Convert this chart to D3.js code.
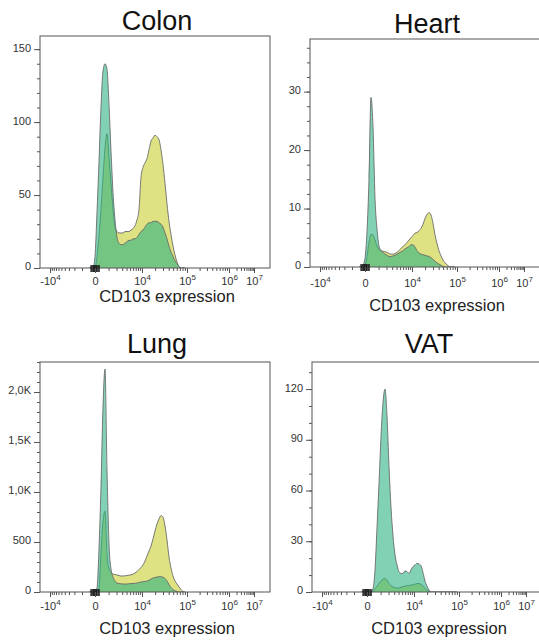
<!DOCTYPE html>
<html><head><meta charset="utf-8">
<script src="https://cdn.jsdelivr.net/npm/d3@7"></script>
<style>
html,body{margin:0;padding:0;background:#fff;}
svg{display:block;font-family:"Liberation Sans",Arial,Helvetica,sans-serif;}
</style></head><body>
<svg id="chart" width="539" height="640"></svg>
<script>
// ---------- DATA ----------
const xBins = [-377,-238,-112,0,107,226,358,504,666,845,1043,1263,1507,1776,2075,2405,2771,3176,3624,4120,4669,5277,5950,6694,7519,8431,9441,10556,11750,13070,14530,16140,17910,19870,22030,24420,27050,29950,33170,36700,40600,44910,49670,54910,60710,67100,74130,81900,90490];

const tissues = ["Colon", "Heart", "Lung", "VAT"];

const colonGreen  = [0,0,0,8,38,73,110,135,140,136,112,80,52,33,21,17,16,16,17,18,19,19,20,20,21,23,25,26,28,30,31,31,32,32,32,31,30,28,24,20,15,11,8,5,3,1,0,0,0];
const colonYellow = [0,0,0,0,8,22,40,62,82,92,76,58,40,28,25,24,24,24,25,25,25,26,27,29,33,40,62,69,72,75,81,87,89,91,90,88,81,71,58,44,32,23,15,9,4,1,0,0,0];

const heartGreen  = [0,0,0.3,1.5,6,15,29,24,11.7,6.5,3.6,2.8,2.5,2.2,2.0,1.8,1.8,1.9,2.0,2.2,2.4,2.6,2.8,3.1,3.3,3.5,3.8,3.8,3.4,2.8,2.4,2.2,2.1,2.0,1.9,1.8,1.6,1.3,1.0,0.7,0.5,0.3,0.1,0,0,0,0,0,0];
const heartYellow = [0,0,0,0.3,1.8,4.2,5.6,5.5,4.6,3.6,3.0,2.8,2.7,2.6,2.5,2.3,2.2,2.2,2.3,2.5,2.8,3.2,3.5,3.8,4.2,4.6,5.0,5.4,5.8,5.9,6.2,6.6,7.3,8.3,9.0,9.3,8.9,7.5,5.5,4.0,2.8,1.9,1.2,0.7,0.4,0.1,0,0,0];

const lungGreen   = [0,0,0,0,40,430,1050,1850,2230,1220,480,230,150,110,90,85,82,80,80,80,82,84,85,87,90,95,100,103,105,110,118,130,140,145,150,153,153,148,135,110,75,45,25,12,5,0,0,0,0];
const lungYellow  = [0,0,0,0,0,40,400,700,810,380,230,195,180,175,170,165,160,160,162,165,168,172,178,190,205,225,245,270,310,360,410,460,530,610,680,730,765,750,660,520,350,240,160,110,80,50,25,5,0];

const vatGreen    = [0,0,0,0,0,0,2,13,38,64,92,112,120,104,74,50,33,22,16,12,11,11,12.5,12,11,13,15,16,17,16.5,15.5,11.5,6.5,3.5,1.2,0,0,0,0,0,0,0,0,0,0,0,0,0,0];
const vatYellow   = [0,0,0,0,0,0,0.5,2,3.5,5,6.5,7.6,8,7,5,3.8,3,2.5,2.3,2.4,2.8,3.2,3.5,3.7,3.9,4.1,4.3,4.6,5,5,4.5,3.5,2.2,1.2,0.4,0,0,0,0,0,0,0,0,0,0,0,0,0,0];

const greenSeries  = [colonGreen, heartGreen, lungGreen, vatGreen];
const yellowSeries = [colonYellow, heartYellow, lungYellow, vatYellow];

const yDomainMax = [159, 39, 2300, 136];
const colonYTicks = [0, 50, 100, 150];
const heartYTicks = [0, 10, 20, 30];
const lungYTicks  = [0, 500, 1000, 1500, 2000];
const vatYTicks   = [0, 30, 60, 90, 120];
const colonYTickLabels = ["0", "50", "100", "150"];
const heartYTickLabels = ["0", "10", "20", "30"];
const lungYTickLabels  = ["0", "500", "1,0K", "1,5K", "2,0K"];
const vatYTickLabels   = ["0", "30", "60", "90", "120"];
const yMinorSteps = [10, 2.5, 100, 10];
const yTicksAll = [colonYTicks, heartYTicks, lungYTicks, vatYTicks];
const yTickLabelsAll = [colonYTickLabels, heartYTickLabels, lungYTickLabels, vatYTickLabels];

const xTickValues = [-1e4, 0, 1e4, 1e5, 1e6, 1e7];
const xTickBase = ["-10", "0", "10", "10", "10", "10"];
const xTickExp  = ["4", "", "4", "5", "6", "7"];
const xMinorMultipliers = [2, 3, 4, 5, 6, 7, 8, 9];
const xNearZeroTicks = [20, 40, 60, 80, 100, 150, 200, 250];
const xAxisTitle = "CD103 expression";

// ---------- LAYOUT / STYLE ----------
const layout = [
  {left: 40,  top: 36,  bottom: 268, width: 230, titleY: 30,  tickLabelY: 284.5, axisTitleY: 302},
  {left: 310, top: 39,  bottom: 267, width: 240, titleY: 33,  tickLabelY: 287, axisTitleY: 311},
  {left: 40,  top: 362, bottom: 592, width: 230, titleY: 353, tickLabelY: 610, axisTitleY: 634},
  {left: 312, top: 362, bottom: 592, width: 240, titleY: 353, tickLabelY: 610, axisTitleY: 634}
];
const xTickOffsets = [10, 55, 102, 147, 189, 214];
const yellowFill = "#dfe283";
const greenFill = "rgb(45,178,130)";
const greenOpacity = 0.6;
const curveStroke = "#6b6b6b";
const axisColor = "#555";

const svg = d3.select("#chart");
svg.append("rect").attr("width", 539).attr("height", 640).attr("fill", "#fff");
const defs = svg.append("defs");

tissues.forEach((name, p) => {
  const L = layout[p];
  const g = svg.append("g").attr("class", "panel");

  const x = d3.scaleSymlog().constant(1000)
    .domain(xTickValues)
    .range(xTickOffsets.map(o => L.left + o));
  const y = d3.scaleLinear().domain([0, yDomainMax[p]]).range([L.bottom, L.top]);

  const clipId = "clip" + p;
  defs.append("clipPath").attr("id", clipId)
    .append("rect").attr("x", L.left).attr("y", L.top)
    .attr("width", L.width).attr("height", L.bottom - L.top);

  const plot = g.append("g").attr("clip-path", `url(#${clipId})`);
  const idx = d3.range(xBins.length);

  const drawSeries = (vals, fill, op) => {
    const area = d3.area().curve(d3.curveMonotoneX)
      .x(i => x(xBins[i])).y0(y(0)).y1(i => y(vals[i]));
    const line = d3.line().curve(d3.curveMonotoneX)
      .x(i => x(xBins[i])).y(i => y(vals[i]));
    plot.append("path").attr("d", area(idx)).attr("fill", fill).attr("fill-opacity", op);
    plot.append("path").attr("d", line(idx)).attr("fill", "none")
      .attr("stroke", curveStroke).attr("stroke-width", 0.9).attr("stroke-linejoin", "round");
  };
  drawSeries(yellowSeries[p], yellowFill, 1);
  drawSeries(greenSeries[p], greenFill, greenOpacity);

  g.append("rect").attr("x", L.left).attr("y", L.top)
    .attr("width", L.width).attr("height", L.bottom - L.top)
    .attr("fill", "none").attr("stroke", axisColor).attr("stroke-width", 1);

  const yMinor = d3.range(0, yDomainMax[p] + 1e-9, yMinorSteps[p]);
  const yAxisMinor = d3.axisLeft(y).tickValues(yMinor).tickSize(3).tickFormat("");
  const yMinorG = g.append("g").attr("transform", `translate(${L.left},0)`).call(yAxisMinor);
  const labels = yTickLabelsAll[p];
  const yAxisMajor = d3.axisLeft(y).tickValues(yTicksAll[p]).tickSize(6).tickPadding(3)
    .tickFormat((d, i) => labels[i]);
  const yMajorG = g.append("g").attr("transform", `translate(${L.left},0)`).call(yAxisMajor);
  [yMinorG, yMajorG].forEach(a => {
    a.select(".domain").remove();
    a.selectAll("line").attr("stroke", axisColor);
  });
  yMajorG.selectAll("text").attr("font-size", 11).attr("fill", "#333")
    .attr("font-family", "'Liberation Sans',Arial,sans-serif").attr("dy", "0.18em");

  const minor = [];
  for (let n = 3; n <= 6; n++) xMinorMultipliers.forEach(k => minor.push(k * Math.pow(10, n)));
  [1000,2000,3000,4000,5000,6000,7000,8000,9000].forEach(v => minor.push(-v));
  minor.push(1000);
  const cluster = [];
  xNearZeroTicks.forEach(v => { cluster.push(v); cluster.push(-v); });
  const xMinorAxis = d3.axisBottom(x).tickValues(minor.filter(v => v < 1e7 && x(v) > L.left))
    .tickSize(3).tickFormat("");
  const xMinorG = g.append("g").attr("transform", `translate(0,${L.bottom})`).call(xMinorAxis);
  xMinorG.select(".domain").remove();
  xMinorG.selectAll("line").attr("stroke", axisColor);
  g.append("g").selectAll("line").data(cluster).join("line")
    .attr("x1", d => x(d)).attr("x2", d => x(d))
    .attr("y1", L.bottom - 3).attr("y2", L.bottom + 4)
    .attr("stroke", "#222").attr("stroke-width", 0.9);

  // x axis with labels (superscript exponents)
  const xMajorAxis = d3.axisBottom(x).tickValues(xTickValues).tickSize(5).tickPadding(4)
    .tickFormat((d, i) => xTickBase[i]);
  const xMajorG = g.append("g").attr("transform", `translate(0,${L.bottom})`).call(xMajorAxis);
  xMajorG.select(".domain").remove();
  xMajorG.selectAll("line").attr("stroke", axisColor);
  xMajorG.selectAll("text")
    .attr("y", L.tickLabelY - L.bottom).attr("dy", null)
    .attr("font-size", 11).attr("fill", "#333")
    .attr("font-family", "'Liberation Sans',Arial,sans-serif")
    .each(function(d, i) {
      if (xTickExp[i] !== "") {
        d3.select(this).append("tspan").attr("dy", -5).attr("font-size", 8).text(xTickExp[i]);
      }
    });

  g.append("text").attr("x", L.left + 117).attr("y", L.titleY)
    .attr("text-anchor", "middle").attr("font-size", 27).attr("fill", "#111").text(name);
  g.append("text").attr("x", L.left + 127).attr("y", L.axisTitleY)
    .attr("text-anchor", "middle").attr("font-size", 16.5).attr("fill", "#222").text(xAxisTitle);
});
</script>
</body></html>
